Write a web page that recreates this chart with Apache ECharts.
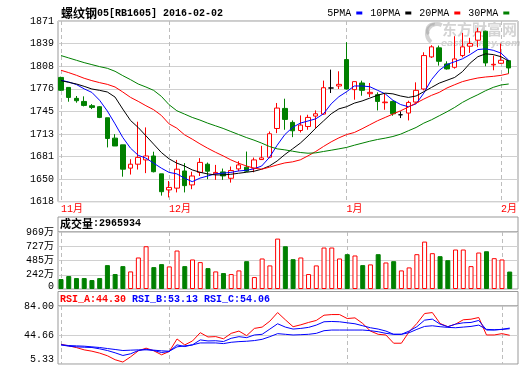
<!DOCTYPE html>
<html><head><meta charset="utf-8">
<script src="https://cdn.jsdelivr.net/npm/echarts@6/dist/echarts.min.js"></script>
<style>html,body{margin:0;padding:0;background:#fff}#c{width:520px;height:365px}</style>
</head><body><div id="c"></div>
<script>
const dates = ['2015-11-11','2015-11-12','2015-11-13','2015-11-16','2015-11-17','2015-11-18','2015-11-19','2015-11-20','2015-11-23','2015-11-24','2015-11-25','2015-11-26','2015-11-27','2015-11-30',
'2015-12-01','2015-12-02','2015-12-03','2015-12-04','2015-12-07','2015-12-08','2015-12-09','2015-12-10','2015-12-11','2015-12-14','2015-12-15','2015-12-16','2015-12-17','2015-12-18','2015-12-21','2015-12-22','2015-12-23','2015-12-24','2015-12-25','2015-12-28','2015-12-29','2015-12-30','2015-12-31',
'2016-01-04','2016-01-05','2016-01-06','2016-01-07','2016-01-08','2016-01-11','2016-01-12','2016-01-13','2016-01-14','2016-01-15','2016-01-18','2016-01-19','2016-01-20','2016-01-21','2016-01-22','2016-01-25','2016-01-26','2016-01-27','2016-01-28','2016-01-29',
'2016-02-01','2016-02-02'];
const opens = [1792,1778,1762.7,1758.4,1752.4,1751,1735.5,1707,1697.6,1665,
1670.5,1676.5,1682,1657,1634.5,1637,1661,1641.5,1659,1670.5,
1657,1659.7,1650.8,1663.9,1666.3,1664.9,1677,1680.3,1720.5,1748.6,
1729,1717.7,1723.3,1737.9,1740.7,1777.2,1780,1817,1774.9,1784.2,
1769.2,1767.8,1756.6,1758.4,1739.7,1742.1,1757.5,1775.8,1820.7,1833.4,
1810.9,1806.2,1822.6,1835.7,1844.1,1856.7,1809.5,1811.8,1815.5];
const closes = [1774,1764,1759.4,1752.8,1750,1736,1706.5,1696,1663.5,1670.5,
1680,1682,1660,1632,1638,1663.5,1640.5,1654,1673,1660.7,
1659,1654.1,1661.6,1669.5,1660.7,1676.5,1679.4,1713.1,1749.1,1733.2,
1717.3,1725.3,1736,1741.1,1777.6,1777.2,1782.3,1775.8,1786.1,1773.9,
1771.1,1758.4,1757.5,1741.1,1739.7,1757,1773.9,1822.6,1834.8,1814.6,
1803.9,1817.9,1834.8,1839.4,1855.8,1812.3,1810.4,1816,1805.3];
const lows = [1773,1758,1756.6,1751.4,1747.7,1735,1694,1696,1653,1656,
1663,1658,1659,1626.5,1624,1631,1631,1635.5,1654,1649.5,
1648.5,1648.5,1644.7,1660.7,1659.7,1659.2,1676.5,1678.9,1714,1718.7,
1708.4,1714.9,1718.7,1721,1739.7,1770.2,1775.8,1775,1760.8,1766.4,
1764.6,1745.8,1746.7,1738.3,1735.1,1731.8,1756.6,1773.9,1819.3,1808.5,
1802.9,1804.3,1820.2,1826.3,1834.3,1807.6,1802,1810.9,1797.3];
const highs = [1793,1778,1766,1765.5,1754.7,1752,1735.5,1712.6,1697.6,1677.5,
1730,1722,1688,1657,1647,1676.5,1672,1660,1679,1672.8,
1669.5,1664.4,1667.2,1674.7,1688.2,1679.8,1696.2,1716.3,1756.2,1762.2,
1731.8,1738.8,1739.7,1745.8,1787.5,1802.9,1800.6,1841.3,1786.1,1787.5,
1784.2,1771.1,1769.2,1759.4,1744.4,1759.4,1785.1,1827.2,1837.1,1836.6,
1814.6,1849.7,1854.4,1847.4,1861.4,1857.5,1822.6,1839.4,1815.5];
const ma5 = [1788,1785.6,1782,1776,1771,1760,1745,1727,1708,1693,
1683,1679,1672,1665,1659,1657,1651,1646,1651,1654,
1657,1658,1659,1661,1662,1664,1668,1680,1697,1712,
1722,1728,1731,1734,1741,1755,1765,1772,1780,1780,
1779,1774,1769,1760,1754,1751,1755,1770,1789,1802,
1810,1814,1818,1824,1831,1832,1830,1826,1816];
const ma10 = [1787.5,1785.1,1782.8,1779.5,1775.8,1773.9,1771.6,1764.5,1747.7,1731.8,
1721.9,1710.3,1698.6,1686.9,1678,1672,1668,1662.5,1659.2,1656.9,
1655.5,1655.5,1656.4,1657.8,1659.2,1660.6,1663.5,1668,1675,1684,
1692,1700,1710,1721,1731,1741,1748,1751,1756,1759,
1763,1767,1770,1769,1766,1764,1766,1772,1778,1784,
1788,1792,1800,1812,1821,1825,1824,1821,1815];
const ma20 = [1802,1798.7,1795,1790.8,1787.5,1784.7,1782.3,1778.6,1771.6,1764.1,
1758.5,1752.4,1746.8,1738.8,1727,1721,1711.7,1705.6,1699,1692.9,
1687.3,1682.2,1676.6,1671.9,1668.1,1664.9,1663.5,1666.3,1669.5,1672.3,
1673.8,1676.6,1682.2,1688.3,1695.3,1701.8,1707.4,1712,1714.9,1720.1,
1725.7,1731.3,1736,1740.7,1745.3,1750.5,1756.1,1761.7,1766.9,1771.1,
1777.2,1781.8,1786.1,1788.9,1791.2,1792.6,1793.5,1794.9,1797.3];
const ma30 = [1822.6,1819.3,1816,1812.7,1809.9,1807.1,1804.8,1800.6,1794.5,1788.9,
1782.8,1778.6,1773.9,1765.5,1753.8,1745.4,1740.7,1736,1732.3,1728,
1724.3,1720.6,1716.3,1712.1,1707.9,1704.2,1700,1695.3,1692,1690.6,
1688.7,1686.9,1685.9,1686.4,1688.3,1690.1,1692,1694,1697.1,1699.9,
1702.7,1705.1,1707,1709.3,1712.6,1717.3,1721.9,1728,1732.7,1738.3,
1743.9,1750,1757,1762.7,1767.8,1773.4,1778.1,1781.4,1782.8];
// volume in units of 万 (10,000)
const volumes = [169,220,186,186,152,186,406,254,389,299,
536,727,372,423,384,654,389,502,457,355,
299,271,254,316,473,203,519,401,857,727,
507,536,254,401,705,705,519,592,570,406,
418,592,451,473,316,367,592,806,609,558,
490,671,671,389,620,642,524,502,296.5934];
const rsiA = [32.1,29.9,27.6,24.5,22.7,20.1,16.5,11.1,8.0,15.1,
23.2,26.8,23.2,17.8,22.3,39.3,31.2,36.6,47.8,42.0,
42.5,39.5,46.9,50.0,43.8,53.6,55.4,63.5,75.1,65.3,
55.9,58.5,61.7,64.4,71.5,72.4,72.4,67.0,67.9,60.3,
50.0,45.6,44.7,33.5,33.5,49.1,60.3,73.8,75.1,60.3,
55.9,59.4,65.3,66.1,68.4,44.7,44.7,46.5,44.30];
const rsiB = [31.3,29.5,28.6,28.1,27.7,25.9,23.6,20.5,16.9,19.2,
23.6,25.4,23.6,20.9,22.3,31.3,29.0,31.3,38.0,36.6,
36.9,35.8,40.2,42.4,41.1,44.7,45.6,52.7,59.9,55.4,
52.7,53.6,55.0,58.1,62.6,63.0,62.6,61.2,59.9,57.2,
54.5,52.7,50.0,45.6,45.6,50.0,55.9,64.8,66.2,59.4,
55.9,59.4,61.2,61.7,64.4,51.4,51.4,52.3,53.13];
const rsiC = [31.3,30.4,29.9,29.5,28.6,27.7,26.3,25.0,23.6,24.1,
24.5,24.5,24.1,23.2,22.7,28.6,29.9,31.3,33.9,33.9,
33.9,33.0,34.8,35.7,36.2,37.1,38.8,42.4,46.5,45.6,
44.7,45.1,45.6,46.9,50.5,51.4,51.4,51.4,51.4,51.4,
50.5,49.1,46.9,45.6,45.6,47.8,52.3,56.3,57.2,55.9,
55.0,54.5,55.4,56.3,58.1,52.3,51.8,52.3,54.06];
const priceTicks = ['1618','1650','1681','1713','1745','1776','1808','1839','1871'];
const volTicks = ['0','242万','485万','727万','969万'];
const rsiTicks = ['5.33','44.66','84.00'];
const priceRange = [1618, 1871];
const volRange = [0, 969];
const rsiRange = [5.33, 84.00];
const maNames = ['5PMA','10PMA','20PMA','30PMA'];
const contractName = '螺纹钢';
const contractCode = '05[RB1605]';

const MONO = "'Liberation Mono','Noto Sans CJK SC',monospace";
const CJK = "'Noto Sans CJK SC'";
const RED = '#ff0000', GREEN = '#008000', BLUE = '#0000ff';
const GRIDC = '#d0d0d0', BORDER = '#999999', DASH = '#bdbdbd';

const monthStart = new Set();
dates.forEach((d, i) => { if (i === 0 || d.slice(5, 7) !== dates[i - 1].slice(5, 7)) monthStart.add(i); });
const monthLabel = d => parseInt(d.slice(5, 7), 10) + '月';
const isMonth = (idx) => monthStart.has(idx);

const FL = 58, FW = 460;          // frame left / width
const DL = 61, DW = 448.7;        // data left / width
const P = {top: 21, h: 180.7};
const VH = {top: 217, h: 15};
const V = {top: 232, h: 57};
const RH = {top: 291.5, h: 14.5};
const R = {top: 306, h: 58};

const candleData = dates.map((d, i) => [opens[i], closes[i], lows[i], highs[i]]);
const volData = volumes.map((v, i) => {
  const up = closes[i] >= opens[i];
  return {value: v, itemStyle: up ? {color: '#ffffff', borderColor: RED, borderWidth: 1} : {color: GREEN, borderColor: GREEN, borderWidth: 1}};
});

const dashSplit = {show: true, interval: isMonth, lineStyle: {color: DASH, type: [4, 3], width: 1}};
const labelAxis = (gi, data, lowPad) => ({
  gridIndex: gi, type: 'category', data: data, boundaryGap: false,
  axisLine: {show: false}, axisTick: {show: false},
  axisLabel: {interval: 0, margin: 4, color: '#000', fontSize: 10, fontFamily: MONO,
    formatter: (v, i) => i === 0 && lowPad ? '{lo|' + v + '}' : v,
    rich: {lo: {fontSize: 10, fontFamily: MONO, color: '#000', padding: [0, 0, lowPad || 0, 0]}}},
  splitLine: {show: true, interval: 0, lineStyle: {color: GRIDC, width: 1}}
});
const dataX = (gi, showLabel) => ({
  gridIndex: gi, type: 'category', data: dates, boundaryGap: false,
  axisLine: {show: false}, axisTick: {show: false},
  axisLabel: showLabel ? {show: true, interval: (i) => isMonth(i), formatter: (v) => monthLabel(v),
    color: RED, fontSize: 10, fontFamily: MONO, align: 'left', margin: 3} : {show: false},
  splitLine: dashSplit
});
const hiddenVal = (gi, range) => {
  const o = {gridIndex: gi, type: 'value', show: false, splitLine: {show: false}};
  if (range) { o.min = range[0]; o.max = range[1]; }
  return o;
};

const lastRsi = (a) => a[a.length - 1].toFixed(2);
const WM = 'rgba(150,150,150,0.42)';

const option = {
  animation: false,
  backgroundColor: '#ffffff',
  title: [
    {left: 61, top: 7, padding: 0, text: '{c|' + contractName + '}{a|' + contractCode + ' ' + dates[dates.length - 1] + '}',
      textStyle: {rich: {c: {fontSize: 12, fontFamily: CJK, color: '#000', verticalAlign: 'middle'}, a: {fontSize: 10, fontFamily: MONO, color: '#000', verticalAlign: 'middle'}}}},
    {left: 60, top: 218, padding: 0, text: '{c|成交量}{a|:' + Math.round(volumes[volumes.length - 1] * 10000) + '}',
      textStyle: {rich: {c: {fontSize: 11, fontFamily: CJK, color: '#000', verticalAlign: 'middle'}, a: {fontSize: 10, fontFamily: MONO, color: '#000', verticalAlign: 'middle'}}}},
    {left: 60, top: 294, padding: 0, text: '{r|RSI_A:' + lastRsi(rsiA) + '} {b|RSI_B:' + lastRsi(rsiB) + '} {b|RSI_C:' + lastRsi(rsiC) + '}',
      textStyle: {fontSize: 10, fontFamily: MONO, rich: {r: {fontSize: 10, fontFamily: MONO, color: RED}, b: {fontSize: 10, fontFamily: MONO, color: BLUE}}}}
  ],
  legend: {data: maNames, right: 10.7, top: 8, padding: 0, align: 'right', icon: 'rect', itemWidth: 6, itemHeight: 3, itemGap: 8,
    selectedMode: false, textStyle: {fontSize: 10, fontFamily: MONO, color: '#000'}},
  graphic: [
    {type: 'arc', z: -10, silent: true, shape: {cx: 437, cy: 34, r: 10, startAngle: 2.2, endAngle: 5.2}, style: {stroke: WM, lineWidth: 4, fill: null}},
    {type: 'arc', z: -10, silent: true, shape: {cx: 433, cy: 30, r: 6, startAngle: 2.4, endAngle: 5.0}, style: {stroke: WM, lineWidth: 3, fill: null}},
    {type: 'text', left: 442, top: 22, z: -10, silent: true, style: {text: '东方财富网', font: 'bold 15px ' + CJK, fill: WM}},
    {type: 'text', left: 441, top: 39, z: -10, silent: true, style: {text: 'eastmoney.com', font: 'italic bold 9px "DejaVu Sans"', fill: WM}}
  ],
  grid: [
    {left: DL, width: DW, top: P.top, height: P.h},                                              // 0 price data
    {left: FL, width: FW, top: P.top, height: P.h, show: true, borderColor: BORDER, borderWidth: 1}, // 1 price frame
    {left: FL, width: FW, top: VH.top, height: VH.h, show: true, borderColor: BORDER, borderWidth: 1}, // 2 vol header
    {left: FL, width: FW, top: V.top, height: V.h, show: true, borderColor: BORDER, borderWidth: 1},  // 3 vol frame
    {left: DL, width: DW, top: V.top, height: V.h},                                              // 4 vol data
    {left: FL, width: FW, top: RH.top, height: RH.h, show: true, borderColor: BORDER, borderWidth: 1}, // 5 rsi header
    {left: FL, width: FW, top: R.top, height: R.h, show: true, borderColor: BORDER, borderWidth: 1},  // 6 rsi frame
    {left: DL, width: DW, top: R.top, height: R.h}                                               // 7 rsi data
  ],
  xAxis: [
    dataX(0, true),
    hiddenVal(1),
    hiddenVal(3),
    dataX(4, false),
    hiddenVal(6),
    dataX(7, false),
    hiddenVal(2),
    hiddenVal(5)
  ],
  yAxis: [
    hiddenVal(0, priceRange),
    labelAxis(1, priceTicks, 0),
    labelAxis(3, volTicks, 5),
    hiddenVal(4, volRange),
    labelAxis(6, rsiTicks, 9),
    hiddenVal(7, rsiRange),
    hiddenVal(2),
    hiddenVal(5)
  ],
  series: [
    {type: 'candlestick', name: 'K', xAxisIndex: 0, yAxisIndex: 0, data: candleData, barWidth: 5, clip: false,
      itemStyle: {color: '#ffffff', color0: GREEN, borderColor: RED, borderColor0: GREEN, borderColorDoji: '#000000', borderWidth: 1}},
    {type: 'line', name: maNames[0], xAxisIndex: 0, yAxisIndex: 0, data: ma5, symbol: 'none', color: BLUE, lineStyle: {color: BLUE, width: 1}, z: 3},
    {type: 'line', name: maNames[1], xAxisIndex: 0, yAxisIndex: 0, data: ma10, symbol: 'none', color: '#000000', lineStyle: {color: '#000000', width: 1}, z: 3},
    {type: 'line', name: maNames[2], xAxisIndex: 0, yAxisIndex: 0, data: ma20, symbol: 'none', color: RED, lineStyle: {color: RED, width: 1}, z: 3},
    {type: 'line', name: maNames[3], xAxisIndex: 0, yAxisIndex: 0, data: ma30, symbol: 'none', color: GREEN, lineStyle: {color: GREEN, width: 1}, z: 3},
    {type: 'bar', name: 'VOL', xAxisIndex: 3, yAxisIndex: 3, data: volData, barWidth: 5, clip: false},
    {type: 'line', name: 'RSI_A', xAxisIndex: 5, yAxisIndex: 5, data: rsiA, symbol: 'none', color: RED, lineStyle: {color: RED, width: 1}},
    {type: 'line', name: 'RSI_B', xAxisIndex: 5, yAxisIndex: 5, data: rsiB, symbol: 'none', color: BLUE, lineStyle: {color: BLUE, width: 1}},
    {type: 'line', name: 'RSI_C', xAxisIndex: 5, yAxisIndex: 5, data: rsiC, symbol: 'none', color: BLUE, lineStyle: {color: BLUE, width: 1}}
  ]
};
const chart = echarts.init(document.getElementById('c'), null, {renderer: 'canvas', width: 520, height: 365});
chart.setOption(option);
</script>
</body></html>
